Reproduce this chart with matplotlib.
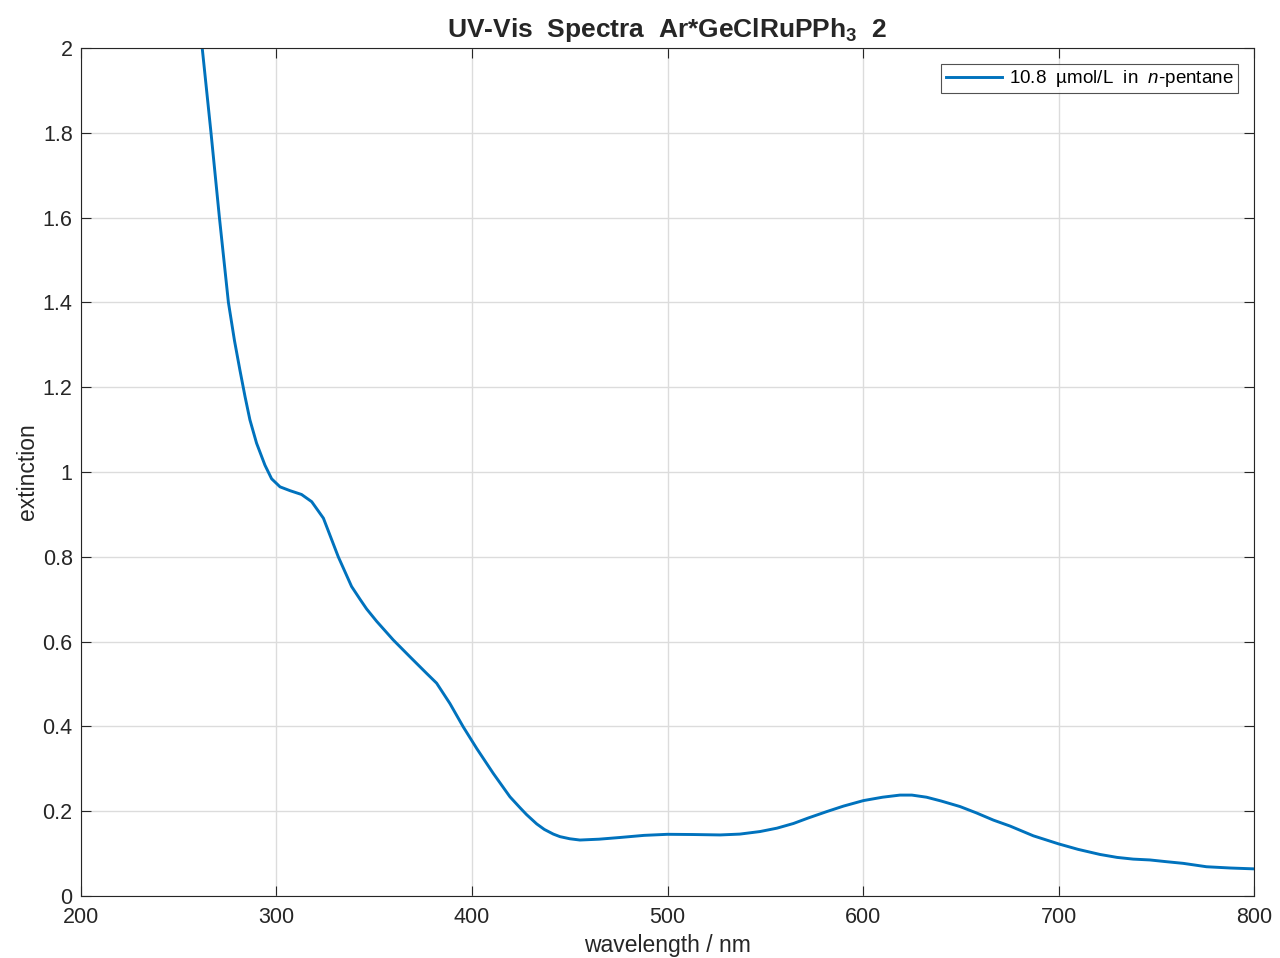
import numpy as np
import matplotlib
matplotlib.use("Agg")
import matplotlib.pyplot as plt

plt.rcParams["font.family"] = ["Liberation Sans", "DejaVu Sans"]
plt.rcParams["mathtext.fontset"] = "custom"
plt.rcParams["mathtext.rm"] = "Liberation Sans"
plt.rcParams["mathtext.it"] = "Liberation Sans:italic"
plt.rcParams["mathtext.bf"] = "Liberation Sans:bold"

# spectrum (wavelength in nm, extinction)
wavelength = [256, 262, 266.5, 270.8, 275.4, 278.5, 281.3, 283.9, 286.4, 289.8,
              294.1, 297.5, 301.8, 306.9, 312.8, 318, 324, 331.6, 338.4, 342.7,
              346.1, 351.2, 359.7, 368.3, 376.8, 381.9, 388.7, 395.5, 402.4, 410.9,
              419.4, 424.6, 427.9, 433.1, 437, 441.6, 445, 450, 455.2, 465,
              475.7, 488, 500, 513, 526.9, 537, 547.3, 556, 564.4, 572,
              581.4, 590, 600.2, 610, 618.9, 625, 632.5, 640, 649.6, 658,
              666.7, 675.2, 687.1, 700, 710, 721.2, 730, 738.2, 746.8, 755,
              763.8, 775.7, 788, 800]
extinction = [2.25, 2.0, 1.8, 1.6, 1.4, 1.31, 1.24, 1.178, 1.123, 1.068,
              1.016, 0.984, 0.965, 0.956, 0.947, 0.930, 0.891, 0.80, 0.73, 0.70,
              0.677, 0.648, 0.604, 0.564, 0.525, 0.502, 0.454, 0.399, 0.348, 0.289,
              0.234, 0.208, 0.192, 0.170, 0.157, 0.146, 0.140, 0.135, 0.132, 0.134,
              0.138, 0.143, 0.1455, 0.145, 0.144, 0.146, 0.152, 0.160, 0.171, 0.184,
              0.199, 0.212, 0.225, 0.233, 0.238, 0.238, 0.233, 0.224, 0.211, 0.196,
              0.179, 0.165, 0.142, 0.123, 0.110, 0.098, 0.091, 0.087, 0.085, 0.081,
              0.077, 0.069, 0.066, 0.064]

x_ticks = [200, 300, 400, 500, 600, 700, 800]
y_ticks = [0, 0.2, 0.4, 0.6, 0.8, 1.0, 1.2, 1.4, 1.6, 1.8, 2.0]
y_labels = ["0", "0.2", "0.4", "0.6", "0.8", "1", "1.2", "1.4", "1.6", "1.8", "2"]

fig = plt.figure(figsize=(12.8, 9.58), dpi=100)
ax = fig.add_axes([81 / 1280, 62 / 958, 1173 / 1280, 848 / 958])

ax.plot(wavelength, extinction, color="#0072BD", linewidth=2.1,
        label=r"10.8  µmol/L  in  $\mathit{n}$-pentane")

ax.set_xlim(200, 800)
ax.set_ylim(0, 2)
ax.set_xticks(x_ticks)
ax.set_yticks(y_ticks)
ax.set_yticklabels(y_labels)
ax.grid(True, color="#dcdcdc", linewidth=1.0)
ax.set_axisbelow(True)

for sp in ax.spines.values():
    sp.set_color("#262626")
    sp.set_linewidth(0.8)
ax.tick_params(direction="in", length=7, width=0.8, colors="#262626",
               labelsize=15.5, top=True, right=True)
ax.tick_params(axis="x", pad=8)
ax.tick_params(axis="y", pad=6)

ax.set_xlabel("wavelength / nm", fontsize=16.5, color="#262626", labelpad=4)
ax.set_ylabel("extinction", fontsize=16.5, color="#262626", labelpad=2.5)
ax.set_title(r"UV-Vis  Spectra  Ar*GeClRuPPh$_\mathbf{3}$  2",
             fontsize=19, fontweight="bold", color="#262626", pad=8)

leg = ax.legend(loc="upper right", fontsize=13.5, frameon=True, fancybox=False,
                edgecolor="#262626", handlelength=3.0, handletextpad=0.4,
                borderpad=0.22, borderaxespad=0,
                bbox_to_anchor=(1 - 16 / 1173, 1 - 16 / 848))
leg.get_frame().set_linewidth(0.8)

fig.savefig("out.png", dpi=100)
